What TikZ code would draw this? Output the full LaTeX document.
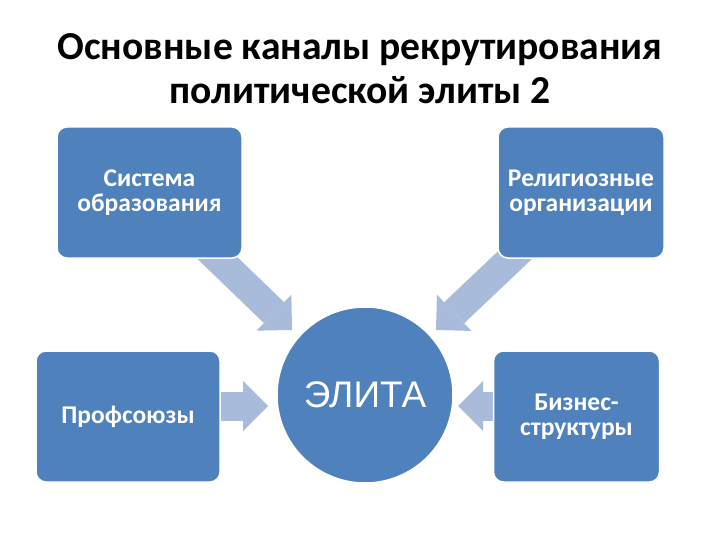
\documentclass[tikz,border=0pt]{standalone}
\usepackage{fontspec}
\setmainfont{Carlito}
\newfontfamily\arialfont{Liberation Sans}
\usetikzlibrary{arrows.meta}
\pgfdeclarelayer{bg}
\pgfsetlayers{bg,main}
\definecolor{boxblue}{HTML}{4F81BD}
\definecolor{arrowblue}{HTML}{A8BBDB}
\begin{document}
\begin{tikzpicture}[x=1pt,y=-1pt,
  chan/.style={draw=white, line width=1.5pt, fill=boxblue, rounded corners=10pt,
    text=white, align=center, font=\fontsize{25.5}{25}\selectfont\bfseries,
    minimum width=#1, minimum height=131pt, inner sep=0pt},
  elite/.style={circle, draw=white, line width=1.5pt, fill=boxblue, text=white,
    minimum size=176pt, inner sep=0pt, font=\arialfont\fontsize{37}{40}\selectfont},
  feed/.style={draw=arrowblue, line width=29pt,
    -{Triangle[length=25pt, width=50pt, line width=0pt]}},
  titletext/.style={font=\fontsize{39.6}{44}\selectfont\bfseries, anchor=base, inner sep=0pt}]
\useasboundingbox (0,0) rectangle (720,540);

\node[titletext] (t1) at (360,60) {Основные каналы рекрутирования};
\node[titletext] (t2) at (360,104) {политической элиты 2};

\node[chan=185pt] (sys) at (149.5,192.5) {Система\\образования};
\node[chan=166pt] (rel) at (581,192.5) {Религиозные\\организации};
\node[chan=184pt] (prof) at (128,416.5) {Профсоюзы};
\node[chan=166pt] (bus) at (576.5,416.5) {Бизнес-\\структуры};
\node[elite] (el) at (365,395) {ЭЛИТА};

\coordinate (ta) at (292,330);
\coordinate (tb) at (436,330);
\coordinate (tc) at (268,406);
\coordinate (td) at (458,406);

\begin{pgfonlayer}{bg}
\fill[white] (0,0) rectangle (720,540);
\draw[feed] (sys.center) -- (ta);
\draw[feed] (rel.center) -- (tb);
\draw[feed] (prof.center |- tc) -- (tc);
\draw[feed] (bus.center |- td) -- (td);
\end{pgfonlayer}
\end{tikzpicture}
\end{document}
